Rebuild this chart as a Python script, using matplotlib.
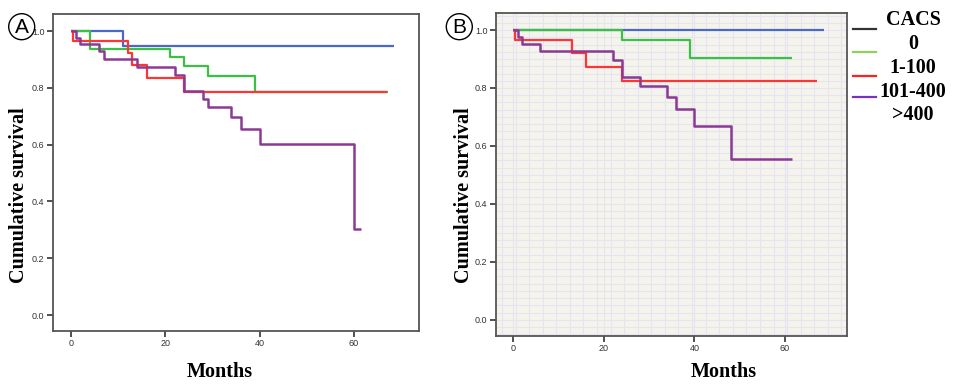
import numpy as np
import matplotlib
matplotlib.use('Agg')
import matplotlib.pyplot as plt
from matplotlib.patches import Ellipse

# ================ data
# panel A
a_cacs0_t = [0, 11]
a_cacs0_s = [1.0, 0.948]
a_cacs0_end = 68.5

a_cacs1_t = [0, 4, 21, 24, 29, 39]
a_cacs1_s = [1.0, 0.938, 0.908, 0.876, 0.842, 0.785]
a_cacs1_end = 67.2

a_cacs2_t = [0, 0.5, 12, 13, 16, 24]
a_cacs2_s = [1.0, 0.964, 0.924, 0.881, 0.833, 0.785]
a_cacs2_end = 67.0

a_cacs3_t = [0, 1, 2, 6, 7, 14, 22, 24, 28, 29, 34, 36, 40, 60]
a_cacs3_s = [1.0, 0.976, 0.953, 0.93, 0.901, 0.874, 0.846, 0.79, 0.761, 0.731, 0.696, 0.654, 0.602, 0.304]
a_cacs3_end = 61.5

# panel B
b_cacs0_t = [0]
b_cacs0_s = [1.0]
b_cacs0_end = 68.6

b_cacs1_t = [0, 24, 39]
b_cacs1_s = [1.0, 0.966, 0.904]
b_cacs1_end = 61.5

b_cacs2_t = [0, 0.4, 13, 16, 24]
b_cacs2_s = [1.0, 0.966, 0.922, 0.874, 0.824]
b_cacs2_end = 67.2

b_cacs3_t = [0, 1, 2, 6, 22, 24, 28, 34, 36, 40, 48]
b_cacs3_s = [1.0, 0.977, 0.952, 0.927, 0.898, 0.839, 0.808, 0.768, 0.727, 0.67, 0.556]
b_cacs3_end = 61.5

legend_labels = ['CACS', '0', '1-100', '101-400', '>400']

c_blue = '#4a68c8'
c_green = '#3cbf45'
c_red = '#ff3535'
c_purple = '#8a3a94'
serif = ['Liberation Serif', 'DejaVu Serif']
sans = ['Liberation Sans', 'DejaVu Sans']


def km(ax, t, s, end, color, lw=1.6):
    x = list(t) + [end]
    y = list(s) + [s[-1]]
    ax.step(x, y, where='post', color=color, lw=lw, solid_capstyle='butt')


def style_axes(ax):
    ax.set_xlim(-3.9, 73.8)
    ax.set_ylim(-0.056, 1.06)
    ax.set_xticks([0, 20, 40, 60])
    ax.set_yticks([0.0, 0.2, 0.4, 0.6, 0.8, 1.0])
    ax.set_yticklabels(['0.0', '0.2', '0.4', '0.6', '0.8', '1.0'])
    ax.tick_params(labelsize=6.5, colors='#333333', length=4, width=1.2, pad=2)
    for tl in ax.get_xticklabels() + ax.get_yticklabels():
        tl.set_family(sans)
    for key, spine in ax.spines.items():
        spine.set_color('#555555')
        spine.set_linewidth(1.3)


fig = plt.figure(figsize=(9.7, 3.84), dpi=100)

# ================ panel A
axA = fig.add_axes([0.0543, 0.138, 0.3777, 0.8255])
km(axA, a_cacs0_t, a_cacs0_s, a_cacs0_end, c_blue)
km(axA, a_cacs1_t, a_cacs1_s, a_cacs1_end, c_green)
km(axA, a_cacs2_t, a_cacs2_s, a_cacs2_end, c_red)
km(axA, a_cacs3_t, a_cacs3_s, a_cacs3_end, c_purple, lw=1.8)
style_axes(axA)

# ================ panel B
axB = fig.add_axes([0.511, 0.125, 0.3625, 0.842])
axB.set_facecolor('#f4f4ec')
axB.set_xticks(np.arange(-2.5, 75, 3.0), minor=True)
axB.set_yticks(np.arange(-0.05, 1.06, 0.025), minor=True)
axB.grid(which='both', color='#e6e4f2', lw=0.8)
axB.tick_params(which='minor', length=0)
axB.set_axisbelow(True)
km(axB, b_cacs0_t, b_cacs0_s, b_cacs0_end, c_blue)
km(axB, b_cacs1_t, b_cacs1_s, b_cacs1_end, c_green)
km(axB, b_cacs2_t, b_cacs2_s, b_cacs2_end, c_red)
km(axB, b_cacs3_t, b_cacs3_s, b_cacs3_end, c_purple, lw=1.8)
style_axes(axB)

# axis titles
for xc, yc in [(19.5 / 970, 1 - 195 / 384), (464 / 970, 1 - 195 / 384)]:
    fig.text(xc, yc, 'Cumulative survival', rotation=90, ha='center', va='center',
             family=serif, fontweight='bold', fontsize=14.5)
for xc in [220 / 970, 724 / 970]:
    fig.text(xc, 1 - 372 / 384, 'Months', ha='center', va='center',
             family=serif, fontweight='bold', fontsize=14.5)

# panel letters in circles
for xc, letter in [(21.7, 'A'), (459.3, 'B')]:
    fig.add_artist(Ellipse((xc / 970, 1 - 26.7 / 384), 26 / 970, 26 / 384,
                           transform=fig.transFigure, fill=False, ec='black', lw=1.0))
    fig.text(xc / 970, 1 - 27.2 / 384, letter, ha='center', va='center', family=sans, fontsize=15)

# legend (as it appears: 4 line samples, 5 labels)
line_cols = ['#333333', '#8fd15a', '#ff2020', '#7a30c0']
line_y = [29.3, 51.7, 76, 96.7]
for c, yy in zip(line_cols, line_y):
    fig.add_artist(plt.Line2D([852.7 / 970, 876 / 970], [1 - yy / 384] * 2, color=c, lw=1.6))
lab_y = [20, 44.3, 67.7, 91.7, 115]
for lab, yy in zip(legend_labels, lab_y):
    fig.text(913 / 970, 1 - yy / 384, lab, ha='center', va='center',
             family=serif, fontweight='bold', fontsize=14.5)

plt.savefig('out.png', dpi=100)
